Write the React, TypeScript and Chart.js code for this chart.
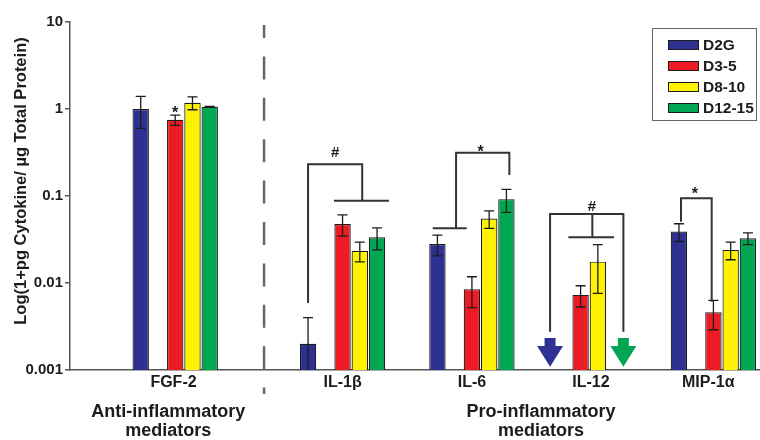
import React, { useEffect, useRef } from 'react';
import { Chart, registerables } from 'chart.js';

Chart.register(...registerables);

// ---------- data ----------
const categories = ['FGF-2', 'IL-1β', 'IL-6', 'IL-12', 'MIP-1α'];
const seriesNames = ['D2G', 'D3-5', 'D8-10', 'D12-15'];

const d2g = [1.0, 0.002, 0.028, null, 0.039];
const d2gErr = [0.4, 0.002, 0.0075, null, 0.009];
const d35 = [0.75, 0.0476, 0.0085, 0.0073, 0.0046];
const d35Err = [0.1, 0.013, 0.0033, 0.002, 0.0017];
const d810 = [1.18, 0.0235, 0.055, 0.0176, 0.024];
const d810Err = [0.2, 0.006, 0.0125, 0.01, 0.0055];
const d1215 = [1.06, 0.0335, 0.092, null, 0.0326];
const d1215Err = [0.01, 0.0095, 0.027, null, 0.005];

const yTicks = [0.001, 0.01, 0.1, 1, 10];
const yTickLabels = ['0.001', '0.01', '0.1', '1', '10'];
const yTitle = 'Log(1+pg Cytokine/ µg Total Protein)';
const groupLabels = [['Anti-inflammatory', 'mediators'], ['Pro-inflammatory', 'mediators']];

// ---------- layout (slot units on the x scale) ----------
const SLOTS = 40;
const groupStart = [3.6, 13.3, 20.8, 27.1, 34.8];
const seriesSlot = [0, 2, 3, 4];
const labelSlot = [6.0, 15.8, 23.3, 30.2, 37.0];
const groupLabelSlot = [5.7, 27.3];
const separatorSlot = 11.25;

const colors = ['#2e3192', '#ed1c24', '#fff200', '#00a651'];
const FONT = '"Liberation Sans", Arial, Helvetica, sans-serif';
const INK = '#1c1c1c';

// significance brackets: polylines in [slot, value]
const brackets: number[][][] = [
  [[13.8, 0.0059], [13.8, 0.231], [16.94, 0.231], [16.94, 0.0883]],
  [[15.3, 0.0883], [18.49, 0.0883]],
  [[21.03, 0.0425], [23.0, 0.0425]],
  [[22.38, 0.0425], [22.38, 0.315], [25.47, 0.315], [25.47, 0.174]],
  [[27.83, 0.00276], [27.83, 0.0621], [32.08, 0.0621], [32.08, 0.00276]],
  [[30.28, 0.0621], [30.28, 0.0335]],
  [[28.89, 0.0335], [31.54, 0.0335]],
  [[35.42, 0.0507], [35.42, 0.094], [37.2, 0.094], [37.2, 0.0061]],
];
const marks = [
  { t: '#', slot: 15.37, v: 0.323 },
  { t: '*', slot: 23.8, v: 0.356 },
  { t: '#', slot: 30.25, v: 0.0775 },
  { t: '*', slot: 36.23, v: 0.119 },
  { t: '*', slot: 6.1, v: 1.0 },
];
// below-detection arrows
const arrows = [
  { slot: 27.83, series: 0 },
  { slot: 32.08, series: 3 },
];
const arrowTop = 0.00233;
const arrowNeck = 0.00189;
const arrowTip = 0.00109;

const annotPlugin = {
  id: 'annot',
  afterDatasetsDraw(chart: any) {
    const { ctx, chartArea } = chart;
    const x = chart.scales.x;
    const y = chart.scales.y;
    const px = (s: number) => x.getPixelForValue(s);
    const py = (v: number) => y.getPixelForValue(v);
    ctx.save();
    // error bars
    chart.data.datasets.forEach((ds: any, di: number) => {
      const meta = chart.getDatasetMeta(di);
      meta.data.forEach((el: any, j: number) => {
        const raw = ds.data[j];
        if (!raw || raw.err == null) return;
        const cx = el.x;
        const top = py(raw.y + raw.err);
        const lowVal = raw.y - raw.err;
        const hasLow = lowVal > y.min;
        const bot = hasLow ? py(lowVal) : chartArea.bottom;
        ctx.strokeStyle = INK;
        ctx.lineWidth = 1.3;
        ctx.beginPath();
        ctx.moveTo(cx, top);
        ctx.lineTo(cx, bot);
        ctx.moveTo(cx - 5, top);
        ctx.lineTo(cx + 5, top);
        if (hasLow) {
          ctx.moveTo(cx - 5, bot);
          ctx.lineTo(cx + 5, bot);
        }
        ctx.stroke();
      });
    });
    // brackets
    ctx.strokeStyle = '#333';
    ctx.lineWidth = 2;
    brackets.forEach((line) => {
      ctx.beginPath();
      line.forEach(([s, v], k) => {
        if (k === 0) ctx.moveTo(px(s), py(v));
        else ctx.lineTo(px(s), py(v));
      });
      ctx.stroke();
    });
    // marks
    ctx.fillStyle = INK;
    ctx.textAlign = 'center';
    ctx.textBaseline = 'alphabetic';
    marks.forEach((m) => {
      const size = m.t === '*' ? 16 : 15;
      ctx.font = `bold ${size}px ${FONT}`;
      const off = m.t === '*' ? 0.58 * size : 0.36 * size;
      ctx.fillText(m.t, px(m.slot), py(m.v) + off);
    });
    // arrows
    arrows.forEach((a) => {
      const cx = px(a.slot);
      const yT = py(arrowTop);
      const yN = py(arrowNeck);
      const yP = py(arrowTip);
      ctx.fillStyle = colors[a.series];
      ctx.beginPath();
      ctx.moveTo(cx - 5.5, yT);
      ctx.lineTo(cx + 5.5, yT);
      ctx.lineTo(cx + 5.5, yN);
      ctx.lineTo(cx + 13, yN);
      ctx.lineTo(cx, yP);
      ctx.lineTo(cx - 13, yN);
      ctx.lineTo(cx - 5.5, yN);
      ctx.closePath();
      ctx.fill();
    });
    ctx.restore();
  },
  afterDraw(chart: any) {
    const { ctx, chartArea } = chart;
    const x = chart.scales.x;
    ctx.save();
    // y-axis title
    ctx.save();
    ctx.translate(21, 181);
    ctx.rotate(-Math.PI / 2);
    ctx.font = `bold 16.5px ${FONT}`;
    ctx.fillStyle = INK;
    ctx.textAlign = 'center';
    ctx.textBaseline = 'middle';
    ctx.fillText(yTitle, 0, 0);
    ctx.restore();
    // dashed separator
    const sx = x.getPixelForValue(separatorSlot);
    ctx.strokeStyle = '#666';
    ctx.lineWidth = 2.5;
    ctx.setLineDash([23, 18.4]);
    ctx.lineDashOffset = 10;
    ctx.beginPath();
    ctx.moveTo(sx, chartArea.top + 3);
    ctx.lineTo(sx, chartArea.bottom + 24);
    ctx.stroke();
    ctx.setLineDash([]);
    // legend box
    const lx = 652, ly = 28, lw = 104, lh = 92;
    ctx.strokeStyle = '#666';
    ctx.lineWidth = 1;
    ctx.strokeRect(lx + 0.5, ly + 0.5, lw, lh);
    ctx.font = `bold 15.5px ${FONT}`;
    ctx.textAlign = 'left';
    ctx.textBaseline = 'middle';
    chart.data.datasets.forEach((ds: any, i: number) => {
      const cy = 45 + i * 21;
      ctx.fillStyle = ds.backgroundColor;
      ctx.fillRect(668, cy - 4.5, 30, 9);
      ctx.strokeStyle = INK;
      ctx.strokeRect(668.5, cy - 4.5, 30, 9);
      ctx.fillStyle = INK;
      ctx.fillText(ds.label, 703, cy + 1);
    });
    ctx.restore();
  },
};

export default function App() {
  const ref = useRef<HTMLCanvasElement>(null);
  useEffect(() => {
    document.body.style.margin = '0';
    const series = [d2g, d35, d810, d1215];
    const errs = [d2gErr, d35Err, d810Err, d1215Err];
    const datasets = seriesNames.map((name, s) => ({
      label: name,
      data: categories
        .map((_, i) =>
          series[s][i] == null
            ? null
            : { x: groupStart[i] + seriesSlot[s] + 0.5, y: series[s][i], err: errs[s][i] }
        )
        .filter((d) => d !== null),
      backgroundColor: colors[s],
      borderColor: INK,
      borderWidth: 1.2,
      grouped: false,
      categoryPercentage: 1,
      barPercentage: 0.95,
    }));

    const chart = new Chart(ref.current as HTMLCanvasElement, {
      type: 'bar',
      data: { datasets } as any,
      plugins: [annotPlugin],
      options: {
        animation: false,
        responsive: false,
        devicePixelRatio: 1,
        layout: { padding: { top: 22, left: 0, right: 0, bottom: 0 } },
        plugins: { legend: { display: false }, tooltip: { enabled: false } },
        scales: {
          x: {
            type: 'linear',
            position: 'bottom',
            min: 0,
            max: SLOTS,
            offset: false,
            weight: 0,
            grid: { display: false, drawTicks: false, offset: false },
            border: { display: true, color: '#555', width: 1.5 },
            afterBuildTicks: (sc: any) => {
              sc.ticks = labelSlot.map((v) => ({ value: v }));
            },
            afterFit: (sc: any) => {
              sc.height = 28;
            },
            ticks: {
              autoSkip: false,
              maxRotation: 0,
              minRotation: 0,
              padding: 3,
              color: INK,
              font: { family: FONT, size: 16, weight: 'bold' },
              callback: (_v: any, i: number) => categories[i],
            },
          },
          xg: {
            type: 'linear',
            position: 'bottom',
            min: 0,
            max: SLOTS,
            offset: false,
            weight: 1,
            grid: { display: false, drawTicks: false },
            border: { display: false },
            afterBuildTicks: (sc: any) => {
              sc.ticks = groupLabelSlot.map((v) => ({ value: v }));
            },
            afterFit: (sc: any) => {
              sc.height = 42;
            },
            ticks: {
              autoSkip: false,
              maxRotation: 0,
              minRotation: 0,
              padding: 5,
              color: INK,
              font: { family: FONT, size: 18, weight: 'bold', lineHeight: 1.05 },
              callback: (_v: any, i: number) => groupLabels[i],
            },
          },
          y: {
            type: 'logarithmic',
            position: 'left',
            min: 0.001,
            max: 10,
            afterBuildTicks: (sc: any) => {
              sc.ticks = yTicks.map((v) => ({ value: v, major: true }));
            },
            afterFit: (sc: any) => {
              sc.width = 70;
            },
            grid: {
              display: true,
              drawOnChartArea: false,
              drawTicks: true,
              tickLength: 5,
              color: '#555',
              lineWidth: 1.5,
            },
            border: { display: true, color: '#555', width: 1.5 },
            ticks: {
              padding: 2,
              color: INK,
              font: { family: FONT, size: 15, weight: 'bold' },
              callback: (_v: any, i: number) => yTickLabels[i],
            },
            title: { display: false },
          },
        },
      } as any,
    });
    return () => chart.destroy();
  }, []);

  return (
    <div style={{ width: 760, height: 440, background: '#fff' }}>
      <canvas ref={ref} width={760} height={440} />
    </div>
  );
}
